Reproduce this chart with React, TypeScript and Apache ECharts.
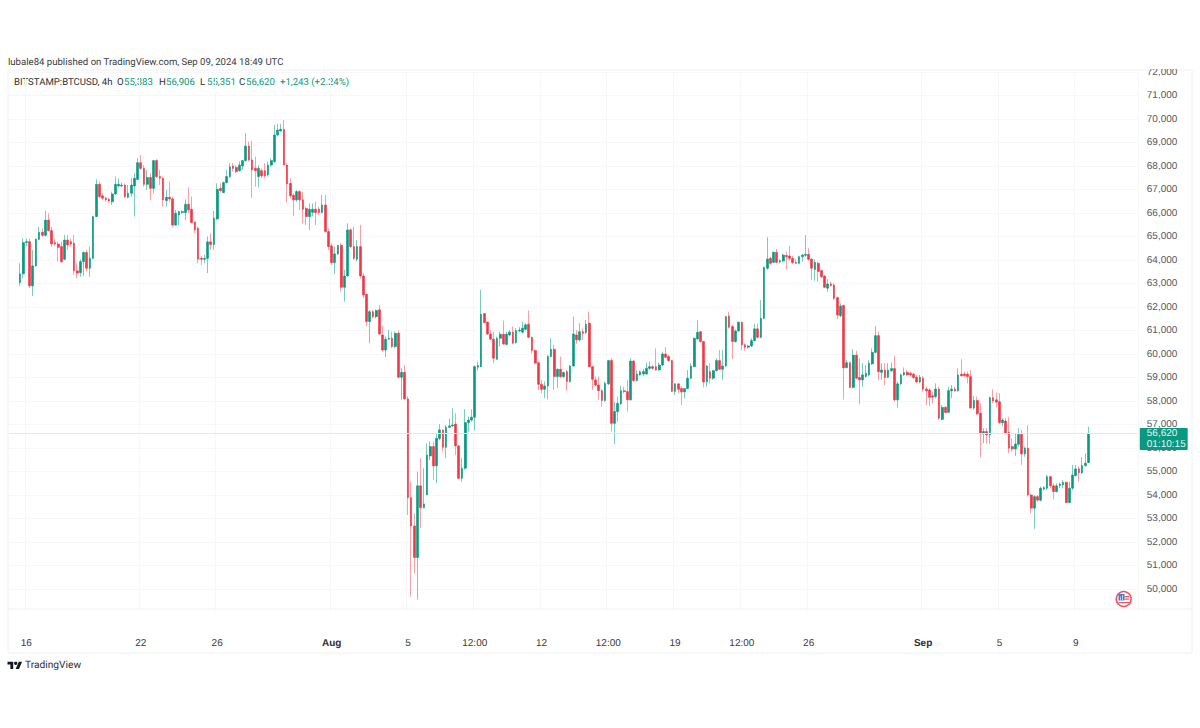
import React, { useEffect, useRef } from "react";
import * as echarts from "echarts";

type Candle = [number, number, number, number]; // open, high, low, close

const julyCandles: Candle[] = [
[63040,63860,62900,63410],[63410,64920,63220,64740],[64740,64920,64570,64780],[64780,64920,62800,62900],[62900,64430,62470,63750],[63750,64920,63720,64880],[64880,65420,64850,65180],[65180,65350,65000,65050],[65050,66100,65000,65700],[65700,65990,65210,65250],
[65250,65420,64570,64680],[64740,64900,64600,64680],[64680,64780,63930,64540],[64570,64780,63860,63930],[64030,65070,64000,64850],[64850,65070,64430,64640],[64780,64900,64570,64680],[64710,65070,63370,63540],[63540,63860,63220,63440],[63460,64030,63290,63930],
[63930,64360,63320,64320],[64320,64430,63510,63650],[63650,64570,63290,64070],[64070,65870,64050,65850],[65850,67430,65820,67220],[67220,67340,66630,66700],[66730,66840,66560,66630],[66630,66700,66480,66560],[66580,66650,66440,66510],[66480,66910,66340,66810],
[66810,67550,66770,67220],[67150,67480,67090,67220],[67150,67300,67100,67190],[67190,67260,66630,66700],[66670,67190,66630,66840],[66840,67480,66700,67190],[67150,67690,65850,67480],[67430,68330,67410,68140],[68140,68470,67830,67900],[67900,68040,67120,67220],
[67220,67830,66980,67510],[67510,67690,66560,67050],[67050,68260,66840,68230],[68230,68290,67480,67550],[67550,67830,67190,67480],[67480,67550,66270,66560],[66530,66980,66270,66670],[66670,67340,66480,66600],[66600,66700,65420,65490],[65490,66130,65450,65990],
[65920,66100,65490,66060],[66020,66130,65960,66060],[66020,66580,65700,66370],[66370,67090,65990,66130],[66160,66700,65560,65590],[65620,65630,65140,65280],[65350,65420,63860,64030],[64070,64170,63790,64030],[64030,64220,63860,64070],[64070,65000,63440,64770],
[64770,65140,64430,64660],[64660,66090,64430,65780],[65750,67260,65700,67010],[67050,67260,66870,66950],[66870,67340,66840,67290],[67290,67830,67260,67550],[67550,68120,67480,67970],[68000,68120,67760,67900],[67940,68040,67690,67760],[67800,68190,67760,68040],
[68000,68260,67830,68230],[68230,69390,68190,68850],[68850,69040,68190,68260],[68260,69080,66650,67830],[67900,68400,67120,67800],[67550,68040,67090,67900],[67800,67900,67480,67580],[67800,68120,67480,67580],[67620,68190,67550,68040],[68040,68330,67970,68230],
[68190,69750,68120,69320],[69320,69790,69280,69530],[69490,69790,69460,69560],[69560,69960,68040,68040],[68040,68120,66440,67240],[67260,67480,66630,66730],[66750,66840,65870,66560],[66560,66980,66480,66910],[66910,66980,66130,66560],[66560,66910,65560,66160],
[66190,66270,65490,65850],[65850,66410,65280,66160],[66030,66410,65850,66160],[66160,66480,65490,66020],[66160,66270,65920,66020],[66020,66770,65990,66340],[66340,66770,65170,65210],[65210,65350,64430,64570],
];

const augustCandles: Candle[] = [
[64600,64710,63790,63890],[63890,64570,63410,64260],[64260,64640,64220,64630],[64630,64710,62660,62840],[62840,63580,62230,63320],[63320,65560,63290,65280],[65280,65350,64500,64570],[64570,65420,64000,64070],[64030,64850,63930,64570],[64570,65490,63220,63320],
[63320,63440,62370,62510],[62540,62580,61190,61380],[61380,61880,60460,61800],[61800,61880,61520,61590],[61590,61900,61520,61850],[61880,62090,60810,60850],[60810,61190,60100,60170],[60170,60740,59860,60630],[60630,61020,60600,60670],[60670,60950,60240,60320],
[60320,60950,60240,60880],[60880,61000,58970,59010],[59010,59390,58050,59220],[59220,59540,58050,58090],[58090,58200,53150,53890],[53890,54570,49680,52680],[52680,53220,50670,51340],[51340,55000,49560,54390],[54390,55560,52610,53460],[53460,55140,53440,53620],
[54000,56200,54000,55700],[55660,56270,55490,56060],[56060,56270,54640,55240],[55240,56630,54500,56410],[56410,57020,56340,56770],[56770,56770,55850,56030],[56030,56980,55560,56880],[56880,57260,56840,56940],[56940,57690,56910,56980],[57020,57480,55700,56090],
[56090,56130,54670,54710],[54710,55560,54570,55140],[55140,57650,55070,57080],[57080,57340,56700,57190],[57190,57650,57120,57310],[57310,59510,56740,59460],[59440,59680,59290,59510],[59460,62730,59440,61690],[61720,61730,61310,61340],[61360,61380,60810,60850],
[60850,61020,60600,60630],[60630,60950,59610,59820],[59780,60740,59750,60670],[60670,60950,60320,60840],[60840,61420,60390,60430],[60410,60950,60360,60840],[60810,61020,60740,60930],[60930,61170,60430,60460],[60490,61100,60430,61000],[60980,61140,60910,61020],
[60930,61380,60880,61100],[61050,61310,61000,61240],[61270,61850,60670,60710],[60710,60740,60030,60150],[60150,60200,59580,59610],[59630,59680,58470,58710],[58710,58900,58330,58500],[58500,58830,58120,58640],[58640,59960,58070,59890],[59890,60670,59860,60200],
[60200,60390,58470,59040],[59040,59390,58540,59350],[59350,59890,58970,59040],[59040,59250,58970,59210],[59250,59320,58440,58830],[58830,59540,58780,59490],[59490,61590,59460,60850],[60810,61020,60430,60600],[60600,61310,60530,60950],[60950,61090,60600,60880],
[60910,61450,60850,61260],[61310,61800,59440,59460],[59460,59490,58470,58920],[58900,59040,58610,58680],[58680,59040,58050,58440],[58440,58500,57760,58020],[58020,58830,57970,58750],[58730,59750,58680,59720],[59720,59820,56700,57050],[57050,57970,56170,57550],
[57550,58190,57120,57900],[57880,58640,57830,58440],[58440,58610,58330,58400],[58400,58900,57550,58050],[58050,59820,58020,59700],[59700,59750,58810,58870],[58870,59320,58830,59150],[59110,59290,59080,59250],[59150,59350,59050,59250],[59150,59630,59110,59390],
[59390,59680,59320,59460],[59460,59530,59320,59390],[59460,60240,59290,59320],[59320,59630,59290,59530],[59530,60100,59490,60000],[60000,60290,59820,59860],[59890,59960,59680,59720],[59720,59750,58390,58410],[58410,58750,58260,58730],[58730,58750,58330,58500],
[58530,58610,57830,58390],[58390,58540,58120,58530],[58530,59320,58500,58970],[58970,59610,58920,59490],[59460,60700,59440,60670],[60640,61450,60600,60920],[60950,60980,60480,60530],[60530,60560,58580,58810],[58810,59530,58610,59490],[59250,59610,58750,58970],
[58970,59320,58900,59290],[59290,59820,59250,59720],[59720,60170,59320,59350],[59350,60170,58900,59490],[59490,61620,59440,61590],[61620,61800,61090,61140],[61170,61240,59780,60530],[60530,61050,60480,60980],[60980,61380,60950,61350],[61350,61380,60170,60390],
[60390,60460,60140,60290],[60290,60390,60230,60340],[60340,60670,60290,60570],[60570,61280,60530,61070],[61070,61310,60670,60710],[60710,62300,60670,61520],[61520,63720,61480,63680],[63650,64970,63580,64040],[64070,64140,63790,63860],[63900,64360,63860,64330],
[64330,64470,63860,63900],[63920,64030,63860,63970],[63960,64280,63890,64210],[64190,64360,63600,64140],[64170,64600,63970,64070],[64070,64170,63830,63890],[63900,64030,63820,63860],[63860,64190,63820,64140],[64140,64260,63930,64210],[64200,65060,64140,64240],
[64240,64500,63970,64030],[64040,64070,63150,63650],[63600,64030,63120,63900],[63860,63930,63080,63510],[63550,63580,63220,63290],[63320,63360,62800,62840],[62800,63180,62650,62980],[62980,63080,62870,62910],[62940,63010,62300,62370],[62400,62440,61480,61660],
[61630,62160,61560,62040],[62070,62090,58070,59410],[59420,59750,59390,59630],[59630,59680,58540,58580],[58580,60200,58540,59950],[59950,60140,58920,58970],[59000,59820,57860,58900],[58900,59610,58610,59110],[59040,59530,59010,59180],[59110,59750,59040,59610],
[59580,60240,59530,60070],[60070,61190,60030,60780],[60780,60950,58900,59250],[59220,59610,58900,59320],[59320,59610,58680,59000],[59010,59610,58970,59320],[59290,59630,59250,59380],[59380,59920,57970,58050],[58050,58830,57730,58730],[58730,59180,58680,59110],
[59110,59430,59070,59210],[59220,59320,59070,59110],[59180,59250,59040,59110],[59140,59210,58920,59000],[59010,59110,58750,58810],[58810,59110,58750,59010],
];

const septemberCandles: Candle[] = [
[58970,59070,58400,58500],[58510,58610,57830,58430],[58470,58540,57790,58160],[58220,58400,57900,58160],[58190,58750,58110,58510],[58510,58610,57190,57270],[57220,57830,57170,57730],[57730,57790,57480,57510],[57520,58610,57480,58440],[58430,58680,58120,58510],
[58510,58610,58400,58430],[58430,59390,58400,59110],[59140,59780,59040,59070],[59150,59250,59010,59080],[59140,59250,58750,59040],[59040,59320,57680,57700],[57700,58220,57620,58020],[58020,58190,57410,57460],[57480,57900,55610,56630],[56600,56840,56200,56700],
[56700,56840,56200,56560],[56560,58190,56170,58140],[58140,58500,57900,58000],[58050,58360,57730,57950],[57970,58330,57020,57080],[57080,57270,56910,57190],[57150,57270,56580,56630],[56670,57310,55780,55990],[56060,56410,55850,55960],[55960,56630,55660,56170],
[56160,56840,56060,56580],[56580,56770,55280,55750],[55750,56060,55630,55990],[55990,56980,53930,54000],[54000,54070,53220,53440],[53440,54000,52560,53930],[53930,54000,53720,53780],[53780,54360,53720,54290],[54260,54360,54190,54320],[54290,54850,54220,54780],
[54780,54810,54290,54390],[54390,54500,53820,54150],[54150,54500,54100,54390],[54400,54530,54290,54470],[54430,54640,54290,54530],[54540,54570,53650,53680],[53680,54570,53650,54290],[54290,55280,54220,54850],[54830,55280,54780,55110],[55110,55210,54570,54950],
[54950,55610,54900,55250],[55250,55780,55210,55350],[55383,56906,55351,56620],
];

const leadingSlots = 3;
const trailingSlots = 15;
const firstCandleUtc = Date.UTC(2024, 6, 15, 16);
const fourHours = 4 * 3600 * 1000;

const tickTimes = ["2024-07-16 00:00","2024-07-22 00:00","2024-07-26 00:00","2024-08-01 00:00","2024-08-05 00:00","2024-08-08 12:00","2024-08-12 00:00","2024-08-15 12:00","2024-08-19 00:00","2024-08-22 12:00","2024-08-26 00:00","2024-09-01 00:00","2024-09-05 00:00","2024-09-09 00:00"];
const tickLabels = ["16","22","26","Aug","5","12:00","12","12:00","19","12:00","26","Sep","5","9"];
const lastPrice = 56620;
const countdown = "01:10:15";
const priceLabels = [["O","55,383"],["H","56,906"],["L","55,351"],["C","56,620"]];
const FONT = "'Liberation Sans', Arial, sans-serif";
const TEXT_FONT = "Roboto, 'Liberation Sans', sans-serif";
const UP = "#089981";
const DOWN = "#f23645";

function slotName(t: number) {
  const d = new Date(t);
  const p = (n: number) => String(n).padStart(2, "0");
  return `${d.getUTCFullYear()}-${p(d.getUTCMonth() + 1)}-${p(d.getUTCDate())} ${p(d.getUTCHours())}:${p(d.getUTCMinutes())}`;
}

echarts.graphic.registerShape("tvLogo", echarts.graphic.extendPath("M14 22H7V11H0V4h14v18zM28 22h-8l7.5-18h8L28 22z", {}));

function label(text: string, x: number, y: number, fill: string, fontSize: number) {
  return { type: "text", x, y, silent: true, style: { text, fill, fontSize, fontFamily: TEXT_FONT } };
}

export default function App() {
  const ref = useRef<HTMLDivElement>(null);
  useEffect(() => {
    const chart = echarts.init(ref.current!, undefined, { renderer: "svg" });
    const candles = [...julyCandles, ...augustCandles, ...septemberCandles];
    const total = leadingSlots + candles.length + trailingSlots;
    const categories = Array.from({ length: total }, (_, i) => slotName(firstCandleUtc + (i - leadingSlots) * fourHours));
    const lead = Array.from({ length: leadingSlots }, () => ["-", "-", "-", "-"]);
    const trail = Array.from({ length: trailingSlots }, () => ["-", "-", "-", "-"]);
    const fullData = [...lead, ...candles.map(([o, h, l, c]) => [o, c, l, h]), ...trail];
    const bodyData = [...lead, ...candles.map(([o, , , c]) => [o, c, Math.min(o, c), Math.max(o, c)]), ...trail];
    const isTick = (i: number) => tickTimes.includes(categories[i]);

    const legendText: any[] = [
      label("lubale84 published on TradingView.com, Sep 09, 2024 18:49 UTC", 8, 57.5, "#3a3a3c", 9.6),
      label("BITSTAMP:BTCUSD, 4h", 14, 77, "#2e2e33", 9.6),
      ...priceLabels.flatMap(([k, v], i) => {
        const x = [117, 159, 200, 239][i];
        return [label(k, x, 77, "#2e2e33", 9.6), label(v, x + 7, 77, UP, 9.6)];
      }),
      label("+1,243 (+2.24%)", 280, 77, UP, 9.6),
    ];

    chart.setOption({
      animation: false,
      backgroundColor: "#ffffff",
      grid: { left: 8.87, top: 72, width: 1128.9, height: 540.5, containLabel: false },
      xAxis: {
        type: "category",
        data: categories,
        boundaryGap: true,
        axisLine: { show: false },
        axisTick: { show: false },
        axisLabel: {
          interval: (i: number) => isTick(i),
          formatter: (v: string) => {
            const t = tickLabels[tickTimes.indexOf(v)] ?? "";
            return t === "Aug" || t === "Sep" ? `{b|${t}}` : t;
          },
          rich: { b: { fontFamily: FONT, fontSize: 10, fontWeight: 700, color: "#2e2e33" } },
          color: "#3a3a3c",
          fontFamily: FONT,
          fontSize: 10,
          margin: 26,
          hideOverlap: false,
        },
        splitLine: { show: true, interval: (i: number) => isTick(i), lineStyle: { color: "#f6f7f8", width: 1 } },
      },
      yAxis: {
        type: "value",
        position: "right",
        min: 49000,
        max: 72000,
        interval: 1000,
        scale: true,
        axisLine: { show: false },
        axisTick: { show: false },
        axisLabel: {
          showMinLabel: false,
          formatter: (v: number) => v.toLocaleString("en-US"),
          color: "#55575c",
          fontFamily: FONT,
          fontSize: 10,
          margin: 9,
        },
        splitLine: { show: true, showMinLine: false, lineStyle: { color: "#f6f7f8", width: 1 } },
      },
      series: [
        {
          name: "wicks",
          type: "candlestick",
          data: fullData,
          barWidth: 1,
          clip: false,
          z: 2,
          itemStyle: { color: "#7ccbbc", color0: "#f7a0a8", borderColor: "#7ccbbc", borderColor0: "#f7a0a8", borderWidth: 1 },
          markLine: {
            silent: true,
            symbol: "none",
            animation: false,
            lineStyle: { type: "solid", color: "#d2efe8", width: 1 },
            label: {
              show: true,
              position: "end",
              distance: 2,
              offset: [0, 5.5],
              formatter: `${lastPrice.toLocaleString("en-US")}\n${countdown}`,
              backgroundColor: UP,
              color: "#e6f5f2",
              fontFamily: FONT,
              fontSize: 10,
              lineHeight: 11,
              padding: [0, 2, 0, 7],
              borderRadius: 1,
            },
            data: [{ yAxis: lastPrice }],
          },
        },
        {
          name: "bodies",
          type: "candlestick",
          data: bodyData,
          barWidth: 2.2,
          clip: false,
          z: 3,
          itemStyle: { color: UP, color0: DOWN, borderColor: UP, borderColor0: DOWN, borderWidth: 0.6 },
        },
      ],
      graphic: {
        elements: [
          { type: "rect", silent: true, z: 100, shape: { x: 1140, y: 62, width: 48, height: 7 }, style: { fill: "#ffffff" } },
          { type: "rect", silent: true, z: -1, shape: { x: 8, y: 70, width: 1184, height: 583 }, style: { fill: "none", stroke: "#eef0f2", lineWidth: 1 } },
          { type: "line", silent: true, shape: { x1: 8, y1: 609, x2: 1192, y2: 609 }, style: { stroke: "#eef0f2", lineWidth: 1 } },
          ...legendText,
          { type: "tvLogo", x: 7.5, y: 660, scaleX: 0.41, scaleY: 0.41, style: { fill: "#131722" } },
          { type: "circle", shape: { cx: 15.7, cy: 663.3, r: 1.65 }, style: { fill: "#131722" } },
          label("TradingView", 25, 660.5, "#2e2e33", 10.2),
          { type: "circle", shape: { cx: 1123.7, cy: 599, r: 7.4 }, style: { fill: "#ffffff", stroke: "#f0525f", lineWidth: 1.6 } },
          { type: "rect", shape: { x: 1118.5, y: 594, width: 6, height: 6.5 }, style: { fill: "#3d7fd9" } },
          { type: "rect", shape: { x: 1120.2, y: 596.5, width: 0.6, height: 4 }, style: { fill: "#ffffff" } },
          { type: "rect", shape: { x: 1122.2, y: 595, width: 0.6, height: 5.5 }, style: { fill: "#ffffff" } },
          { type: "rect", shape: { x: 1124.5, y: 596, width: 4.5, height: 1.2 }, style: { fill: "#f0525f" } },
          { type: "rect", shape: { x: 1124.5, y: 598.5, width: 4.5, height: 1.2 }, style: { fill: "#f0525f" } },
          { type: "rect", shape: { x: 1118.5, y: 602, width: 10.5, height: 1.2 }, style: { fill: "#f0525f" } },
        ],
      },
    });
    return () => chart.dispose();
  }, []);
  return <div ref={ref} style={{ width: 1200, height: 728, position: "absolute", left: 0, top: 0, textRendering: "geometricPrecision" }} />;
}
